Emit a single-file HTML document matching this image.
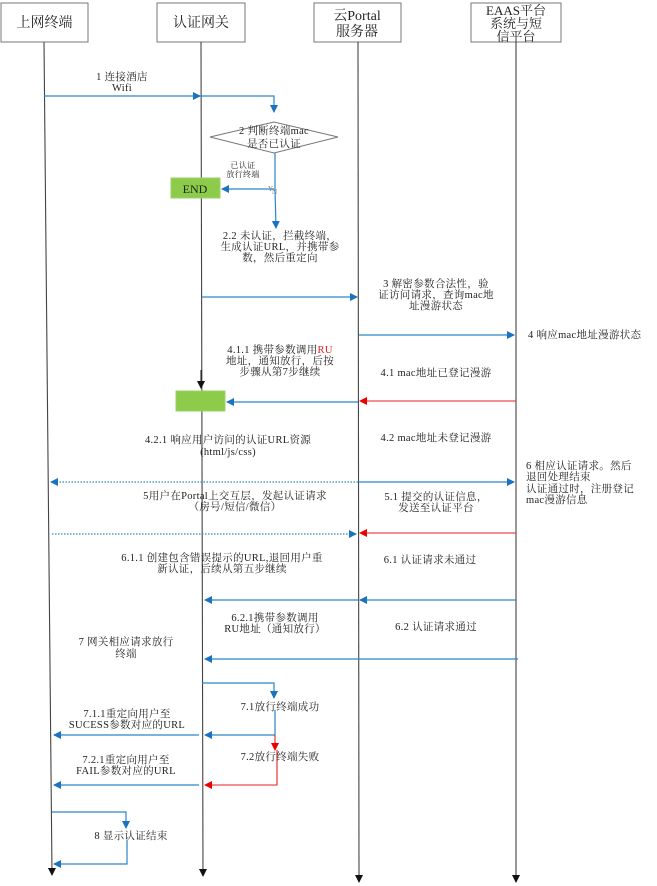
<!DOCTYPE html>
<html><head><meta charset="utf-8"><style>
html,body{margin:0;padding:0;background:#fff}
svg{display:block}
text{font-family:"Liberation Serif","Noto Serif CJK SC",serif;font-size:10.5px;fill:#222;letter-spacing:0.3px}
.h{font-family:"Liberation Serif","Noto Serif CJK SC",serif;font-size:14px;fill:#222;letter-spacing:0}
</style></head><body>
<svg width="657" height="886" viewBox="0 0 657 886" xmlns="http://www.w3.org/2000/svg">
<defs>
<marker id="b" markerWidth="8" markerHeight="8" refX="7" refY="4" orient="auto" markerUnits="userSpaceOnUse"><path d="M0,0 L8,4 L0,8 z" fill="#1a73c0"/></marker>
<marker id="r" markerWidth="8" markerHeight="8" refX="7" refY="4" orient="auto" markerUnits="userSpaceOnUse"><path d="M0,0 L8,4 L0,8 z" fill="#e00"/></marker>
<marker id="k" markerWidth="8" markerHeight="8" refX="7" refY="4" orient="auto" markerUnits="userSpaceOnUse"><path d="M0,0 L8,4 L0,8 z" fill="#111"/></marker>
</defs>
<g fill="#fff" stroke="#777" stroke-width="1">
<rect x="1" y="3" width="87" height="39"/>
<rect x="157" y="3" width="88" height="39"/>
<rect x="314" y="3" width="87" height="39"/>
<rect x="471" y="3" width="90" height="39"/>
</g>
<text class="h" x="44.5" y="27" text-anchor="middle">上网终端</text>
<text class="h" x="201" y="27" text-anchor="middle">认证网关</text>
<text class="h" x="357" y="20" text-anchor="middle">云Portal</text>
<text class="h" x="357" y="36" text-anchor="middle">服务器</text>
<text class="h" x="516" y="15" text-anchor="middle" style="font-size:13px">EAAS平台</text>
<text class="h" x="516" y="28" text-anchor="middle" style="font-size:13px">系统与短</text>
<text class="h" x="516" y="41" text-anchor="middle" style="font-size:13px">信平台</text>
<g stroke="#444" stroke-width="1.1" fill="none">
<line x1="44" y1="42" x2="52" y2="875" marker-end="url(#k)"/>
<line x1="201" y1="42" x2="203" y2="876" marker-end="url(#k)"/>
<line x1="358" y1="42" x2="359" y2="882" marker-end="url(#k)"/>
<line x1="516" y1="42" x2="516" y2="882" marker-end="url(#k)"/>
</g>
<g stroke="#2a86c8" stroke-width="1.2" fill="none">
<line x1="44" y1="96" x2="200" y2="96" marker-end="url(#b)"/>
<polyline points="200,96 274,96 274,112" marker-end="url(#b)"/>
<line x1="275" y1="153" x2="275" y2="189"/>
<line x1="274" y1="189" x2="222" y2="189" marker-end="url(#b)"/>
<line x1="275" y1="189" x2="276" y2="228" marker-end="url(#b)"/>
<line x1="202" y1="297" x2="357" y2="297" marker-end="url(#b)"/>
<line x1="359" y1="335" x2="514" y2="335" marker-end="url(#b)"/>
<line x1="358" y1="402" x2="227" y2="402" marker-end="url(#b)"/>
<line x1="358" y1="482" x2="514" y2="482" marker-end="url(#b)"/>
<line x1="358" y1="482" x2="51" y2="482" stroke-dasharray="1.5,1.5" marker-end="url(#b)"/>
<line x1="52" y1="534" x2="356" y2="534" stroke-dasharray="1.5,1.5" marker-end="url(#b)"/>
<line x1="516" y1="600" x2="360" y2="600" marker-end="url(#b)"/>
<line x1="358" y1="600" x2="205" y2="600" marker-end="url(#b)"/>
<line x1="518" y1="659" x2="205" y2="659" marker-end="url(#b)"/>
<polyline points="202,683 274,683 274,698" marker-end="url(#b)"/>
<line x1="275" y1="710" x2="275" y2="735"/>
<line x1="275" y1="735" x2="205" y2="735" marker-end="url(#b)"/>
<line x1="199" y1="735" x2="54" y2="735" marker-end="url(#b)"/>
<line x1="199" y1="785" x2="54" y2="785" marker-end="url(#b)"/>
<polyline points="52,812 126,812 126,828" marker-end="url(#b)"/>
<polyline points="127,840 127,864 54,864" marker-end="url(#b)"/>
</g>
<g stroke="#e02020" stroke-width="1.1" fill="none">
<line x1="516" y1="401" x2="360" y2="401" marker-end="url(#r)"/>
<line x1="516" y1="533" x2="360" y2="533" marker-end="url(#r)"/>
<line x1="275" y1="735" x2="275" y2="750" marker-end="url(#r)"/>
<polyline points="277,750 277,785 205,785" marker-end="url(#r)"/>
</g>
<line x1="201" y1="370" x2="201" y2="388" stroke="#111" marker-end="url(#k)"/>
<polygon points="210,137 274,122 338,137 274,153" fill="#fff" stroke="#777"/>
<text x="274" y="134" text-anchor="middle">2 判断终端mac</text>
<text x="274" y="147" text-anchor="middle">是否已认证</text>
<rect x="171" y="178" width="49" height="20" fill="#8ccc4a" stroke="#9ad06a"/>
<text x="195" y="193" text-anchor="middle" style="font-size:12px;letter-spacing:0">END</text>
<rect x="176" y="391" width="49" height="20" fill="#8ccc4a" stroke="#9ad06a"/>
<text x="243" y="168" text-anchor="middle" style="font-size:8px">已认证</text>
<text x="243" y="177" text-anchor="middle" style="font-size:8px">放行终端</text>
<text x="268" y="191" style="font-size:7px;fill:#777">Y</text>
<text x="272" y="194" style="font-size:7px;fill:#777">N</text>
<text x="122" y="80" text-anchor="middle">1 连接酒店</text>
<text x="122" y="91" text-anchor="middle">Wifi</text>
<text x="280" y="239" text-anchor="middle">2.2 未认证，拦截终端，</text>
<text x="280" y="250" text-anchor="middle">生成认证URL，并携带参</text>
<text x="280" y="261" text-anchor="middle">数，然后重定向</text>
<text x="436" y="287" text-anchor="middle">3 解密参数合法性，验</text>
<text x="436" y="298" text-anchor="middle">证访问请求，查询mac地</text>
<text x="436" y="309" text-anchor="middle">址漫游状态</text>
<text x="528" y="338">4 响应mac地址漫游状态</text>
<text x="280" y="353" text-anchor="middle">4.1.1 携带参数调用<tspan style="fill:#e02020">RU</tspan></text>
<text x="280" y="364" text-anchor="middle">地址，通知放行，后按</text>
<text x="280" y="375" text-anchor="middle">步骤从第7步继续</text>
<text x="436" y="376" text-anchor="middle">4.1 mac地址已登记漫游</text>
<text x="228" y="443" text-anchor="middle">4.2.1 响应用户访问的认证URL资源</text>
<text x="228" y="455" text-anchor="middle">(html/js/css)</text>
<text x="436" y="441" text-anchor="middle">4.2 mac地址未登记漫游</text>
<text x="526" y="469">6 相应认证请求。然后</text>
<text x="526" y="480">退回处理结束</text>
<text x="526" y="492">认证通过时，注册登记</text>
<text x="526" y="503">mac漫游信息</text>
<text x="235" y="499" text-anchor="middle">5用户在Portal上交互层，发起认证请求</text>
<text x="235" y="510" text-anchor="middle">（房号/短信/微信）</text>
<text x="436" y="500" text-anchor="middle">5.1 提交的认证信息，</text>
<text x="436" y="511" text-anchor="middle">发送至认证平台</text>
<text x="222" y="561" text-anchor="middle">6.1.1 创建包含错误提示的URL,退回用户重</text>
<text x="222" y="572" text-anchor="middle">新认证，后续从第五步继续</text>
<text x="430" y="563" text-anchor="middle">6.1 认证请求未通过</text>
<text x="275" y="621" text-anchor="middle">6.2.1携带参数调用</text>
<text x="275" y="632" text-anchor="middle">RU地址（通知放行）</text>
<text x="436" y="630" text-anchor="middle">6.2 认证请求通过</text>
<text x="126" y="645" text-anchor="middle">7 网关相应请求放行</text>
<text x="126" y="657" text-anchor="middle">终端</text>
<text x="280" y="710" text-anchor="middle">7.1放行终端成功</text>
<text x="127" y="717" text-anchor="middle">7.1.1重定向用户至</text>
<text x="127" y="728" text-anchor="middle">SUCESS参数对应的URL</text>
<text x="280" y="760" text-anchor="middle">7.2放行终端失败</text>
<text x="126" y="763" text-anchor="middle">7.2.1重定向用户至</text>
<text x="126" y="774" text-anchor="middle">FAIL参数对应的URL</text>
<text x="131" y="839" text-anchor="middle">8 显示认证结束</text>
</svg>
</body></html>
